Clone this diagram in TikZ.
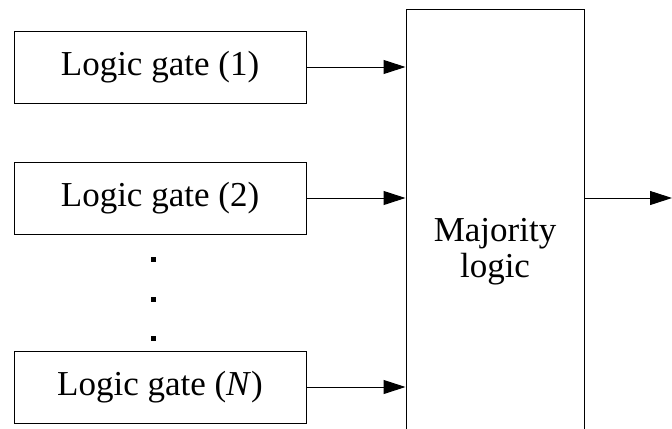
\documentclass[tikz,border=0pt]{standalone}
\usepackage{fontspec}
\setmainfont{Liberation Serif}
\usetikzlibrary{arrows.meta}
\tikzset{
  gatebox/.style={draw, line width=0.5pt, minimum width=146pt, minimum height=36pt, inner sep=0pt},
  majbox/.style={draw, line width=0.5pt, minimum width=89pt, minimum height=243pt, align=center, inner sep=0pt},
  feed/.style={line width=0.5pt, -{Triangle[length=11pt,width=7pt]}}
}
\begin{document}
\begin{tikzpicture}[x=0.5pt, y=-0.5pt, font=\fontsize{17.5}{18}\selectfont]
	\useasboundingbox (0,0) rectangle (672,428);
	\node[gatebox] (g1) at (160,67) {Logic gate (1)};
	\node[gatebox] (g2) at (160,198) {Logic gate (2)};
	\node[gatebox] (gN) at (160,387) {Logic gate (\textit{N})};
	\foreach \y in {259,299,338}
		\fill (151,\y-2.5) rectangle ++(5,5);
	\node[majbox] (maj) at (495,252) {Majority\\logic};
	\coordinate (out) at (672,198);
	
	\draw[feed] (g1.east) -- (g1.east -| maj.west);
	\draw[feed] (g2.east) -- (g2.east -| maj.west);
	\draw[feed] (gN.east) -- (gN.east -| maj.west);
	\draw[feed] (maj.east |- out) -- (out);
\end{tikzpicture}
\end{document}
